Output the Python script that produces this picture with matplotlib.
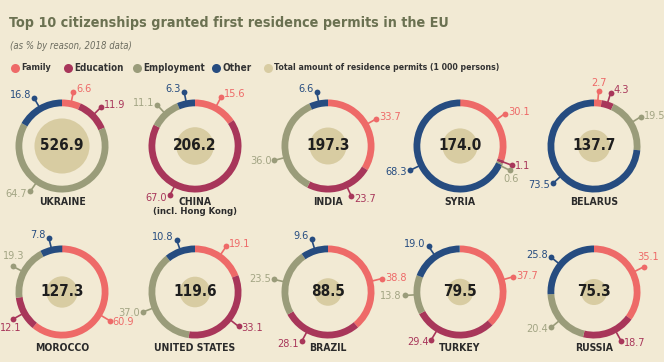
import numpy as np
import matplotlib.pyplot as plt
from matplotlib.patches import Wedge, Circle

plt.rcParams['font.family'] = ['DejaVu Sans']
plt.rcParams['font.stretch'] = 'condensed'

# data
countries = ['UKRAINE', 'CHINA', 'INDIA', 'SYRIA', 'BELARUS',
             'MOROCCO', 'UNITED STATES', 'BRAZIL', 'TURKEY', 'RUSSIA']
totals = [526.9, 206.2, 197.3, 174.0, 137.7, 127.3, 119.6, 88.5, 79.5, 75.3]
family = [6.6, 15.6, 33.7, 30.1, 2.7, 60.9, 19.1, 38.8, 37.7, 35.1]
education = [11.9, 67.0, 23.7, 1.1, 4.3, 12.1, 33.1, 28.1, 29.4, 18.7]
employment = [64.7, 11.1, 36.0, 0.6, 19.5, 19.3, 37.0, 23.5, 13.8, 20.4]
other = [16.8, 6.3, 6.6, 68.3, 73.5, 7.8, 10.8, 9.6, 19.0, 25.8]
reasons = ['Family', 'Education', 'Employment', 'Other']

colors = ['#ee6a68', '#a8365a', '#9a9c7a', '#264c80']
label_colors = ['#ee6a68', '#a8365a', '#a3a584', '#264c80']
bg = '#f2ead4'
inner = '#d8cca2'

# label angle overrides (deg clockwise from top)
label_angle = {(0, 2): 215, (1, 1): 207, (2, 1): 155, (2, 2): 255,
               (3, 2): 116, (3, 3): 244, (4, 2): 58, (5, 0): 121, (6, 2): 249,
               (7, 0): 76, (7, 1): 208, (8, 0): 74, (8, 1): 211,
               (9, 1): 151, (9, 3): 309}
# text placement overrides relative to the leader dot
label_place = {(3, 2): (1, -4, 'center', 'top'),
               (4, 2): (2.5, 1, 'left', 'center'),
               (5, 2): (-10, 5, 'left', 'bottom'),
               (5, 1): (-13, -4, 'left', 'top'),
               (9, 0): (4, 5, 'center', 'bottom')}

W, H = 664, 362
fig = plt.figure(figsize=(W / 100, H / 100), dpi=100)
fig.patch.set_facecolor(bg)
ax = fig.add_axes([0, 0, 1, 1])
ax.set_xlim(0, W)
ax.set_ylim(0, H)
ax.axis('off')
renderer = fig.canvas.get_renderer()


def Y(p):
    return H - p


def fit(t, width):
    # shrink/grow a text so that it is `width` pixels wide
    bb = t.get_window_extent(renderer)
    t.set_fontsize(t.get_fontsize() * width / bb.width)


t = ax.text(9, Y(23), 'Top 10 citizenships granted first residence permits in the EU',
            fontsize=14, fontweight='bold', color='#6b7151', va='center')
fit(t, 440)
t = ax.text(10, Y(46), '(as % by reason, 2018 data)', fontsize=9,
            style='italic', color='#6d6d60', va='center')
fit(t, 122)

leg_x = [15, 68, 137, 216, 268]
leg_w = [30, 49, 62, 29, 225]
leg_labels = reasons + ['Total amount of residence permits (1 000 persons)']
leg_cols = colors + [inner]
for x, lab, c, lw_ in zip(leg_x, leg_labels, leg_cols, leg_w):
    ax.plot(x, Y(68), 'o', ms=6.5, color=c, mec='none')
    t = ax.text(x + 6.5, Y(68), lab, fontsize=8, color='#333333', va='center',
                fontweight='semibold')
    fit(t, lw_)

cx = [62, 195, 328, 460, 594]
cy = [146, 292]
R, w = 46.5, 6.8
rd = 55.5

for i, name in enumerate(countries):
    x0 = cx[i % 5]
    y0 = Y(cy[i // 5])
    vals = [family[i], education[i], employment[i], other[i]]
    start = 0.0
    for k, v in enumerate(vals):
        a1 = start * 3.6
        a2 = (start + v) * 3.6
        ax.add_patch(Wedge((x0, y0), R, 90 - a2, 90 - a1, width=w, color=colors[k], lw=0))
        ang = label_angle.get((i, k), (start + v / 2) * 3.6)
        s, c = np.sin(np.radians(ang)), np.cos(np.radians(ang))
        dx, dy = x0 + s * rd, y0 + c * rd
        ax.plot([x0 + s * (R - 1), dx], [y0 + c * (R - 1), dy],
                color=colors[k], lw=1.2, solid_capstyle='butt')
        ax.plot(dx, dy, 'o', ms=4.2, color=colors[k], mec='none')
        if (i, k) in label_place:
            ox, oy, ha, va = label_place[(i, k)]
            tx, ty = dx + ox, dy + oy
        elif s > 0.15:
            tx, ty, ha, va = dx + 3, dy + c * 3, 'left', 'center'
        elif s < -0.15:
            tx, ty, ha, va = dx - 3, dy + c * 3, 'right', 'center'
        else:
            tx, ty, ha = dx, dy + (3 if c > 0 else -3), 'center'
            va = 'bottom' if c > 0 else 'top'
        ax.text(tx, ty, f'{v:.1f}', fontsize=7.8, color=label_colors[k], ha=ha, va=va)
        start += v
    r_in = 1.016 * np.sqrt(totals[i]) + 4.2
    ax.add_patch(Circle((x0, y0), r_in, color=inner, lw=0))
    ax.text(x0, y0, f'{totals[i]:.1f}', fontsize=11, fontweight='bold',
            color='#1e1e1e', ha='center', va='center')
    ax.text(x0, y0 - 56, name, fontsize=7.5, fontweight='bold', color='#2b2b2b',
            ha='center', va='center')
    if name == 'CHINA':
        ax.text(x0, y0 - 66, '(incl. Hong Kong)', fontsize=6.8, fontweight='bold',
                color='#2b2b2b', ha='center', va='center')

fig.savefig('out.png', dpi=100, facecolor=bg)
